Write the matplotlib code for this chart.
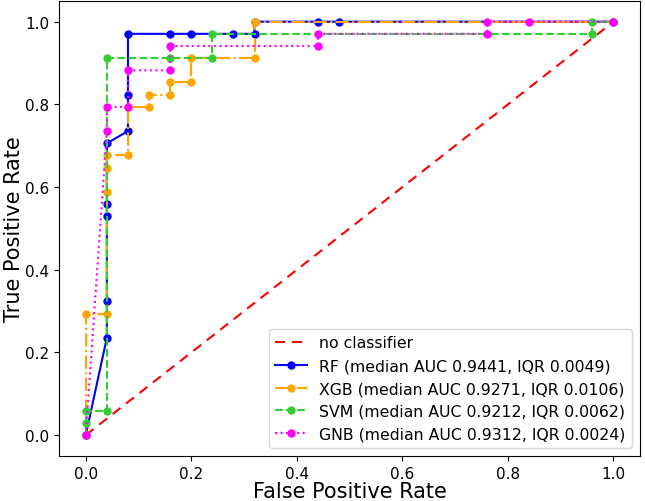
import matplotlib
matplotlib.use('Agg')
import matplotlib.pyplot as plt

n_pos = 34

# ROC points: FPR values and TPR counts (out of 34 positives)
rf_fpr = [0, 0.04, 0.04, 0.04, 0.04, 0.04, 0.08, 0.08, 0.08, 0.16, 0.20, 0.28, 0.32, 0.32, 0.44, 0.48, 1.0]
rf_tp = [0, 8, 11, 18, 19, 24, 25, 28, 33, 33, 33, 33, 33, 34, 34, 34, 34]

xgb_fpr = [0, 0, 0.04, 0.04, 0.04, 0.04, 0.08, 0.08, 0.12, 0.12, 0.16, 0.16, 0.20, 0.20, 0.32, 0.32, 1.0]
xgb_tp = [0, 10, 10, 20, 22, 23, 23, 27, 27, 28, 28, 29, 29, 31, 31, 34, 34]

svm_fpr = [0, 0, 0, 0.04, 0.04, 0.16, 0.24, 0.24, 0.96, 0.96, 1.0]
svm_tp = [0, 1, 2, 2, 31, 31, 31, 33, 33, 34, 34]

gnb_fpr = [0, 0.04, 0.04, 0.08, 0.08, 0.16, 0.16, 0.44, 0.44, 0.76, 0.76, 0.84, 1.0]
gnb_tp = [0, 25, 27, 27, 30, 30, 32, 32, 33, 33, 34, 34, 34]

labels = [
    'RF (median AUC 0.9441, IQR 0.0049)',
    'XGB (median AUC 0.9271, IQR 0.0106)',
    'SVM (median AUC 0.9212, IQR 0.0062)',
    'GNB (median AUC 0.9312, IQR 0.0024)',
]

fig, ax = plt.subplots(figsize=(6.45, 5.02), dpi=100)
fig.subplots_adjust(left=0.092, right=0.992, top=0.996, bottom=0.09)

ax.plot([0, 1], [0, 1], '--', color='red', lw=1.5, dashes=(4.8, 3.4), label='no classifier')

curves = [
    (rf_fpr, rf_tp, 'blue', '-'),
    (xgb_fpr, xgb_tp, 'orange', '-.'),
    (svm_fpr, svm_tp, 'limegreen', '--'),
    (gnb_fpr, gnb_tp, 'magenta', ':'),
]
for (fpr, tp, color, ls), label in zip(curves, labels):
    tpr = [t / n_pos for t in tp]
    ax.plot(fpr, tpr, ls, color=color, marker='o', markersize=5, lw=1.5, label=label)

ax.set_xlabel('False Positive Rate', fontsize=15, labelpad=0)
ax.set_ylabel('True Positive Rate', fontsize=15, labelpad=1)
ax.tick_params(labelsize=11)
ax.legend(loc='lower right', fontsize=11.3)

plt.savefig('out.png')
